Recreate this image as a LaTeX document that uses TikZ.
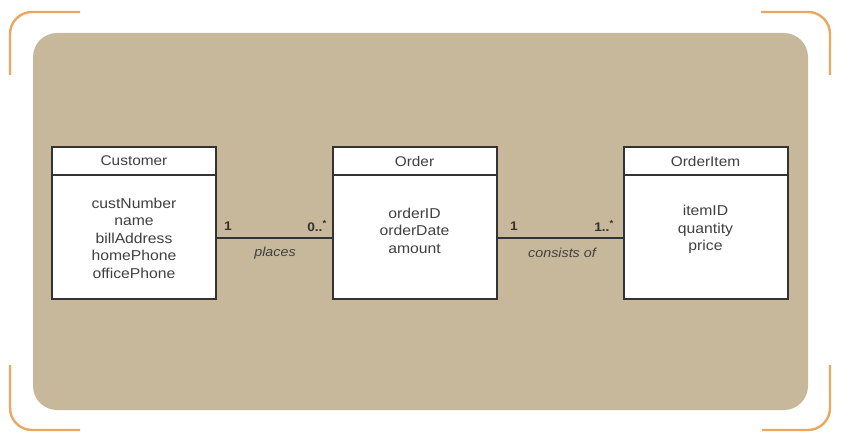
\documentclass[tikz,border=0pt]{standalone}
\usepackage{fontspec}
\setmainfont{Liberation Sans}[FakeStretch=1.1]
\definecolor{tanbg}{HTML}{C8B89B}
\definecolor{bracketc}{HTML}{E9A862}
\definecolor{linec}{HTML}{333333}
\definecolor{textc}{HTML}{404040}
\tikzset{
  bracket/.style={draw=bracketc, line width=2.4pt, rounded corners=22pt},
  classbox/.style={draw=linec, line width=2pt, fill=white, minimum width=164pt, minimum height=152pt, inner sep=0pt},
  classline/.style={draw=linec, line width=2pt},
  title/.style={text=textc, font=\fontsize{14}{16}\selectfont},
  attrs/.style={text=textc, align=center, font=\fontsize{14.3}{17.5}\selectfont},
  mult/.style={text=linec, font=\fontsize{12.5}{14}\selectfont\bfseries, inner sep=0pt},
  role/.style={text=textc, font=\fontsize{13}{15}\selectfont\itshape, inner sep=0pt},
  assoc/.style={draw=linec, line width=2pt}
}
\begin{document}
\begin{tikzpicture}[x=1pt, y=-1pt]
\useasboundingbox (0,0) rectangle (851,433);
% background panel
\fill[tanbg, rounded corners=24pt] (33,33) rectangle (808,410);
% corner brackets
\draw[bracket] (10,75) -- (10,12) -- (80,12);
\draw[bracket] (761,12) -- (830,12) -- (830,75);
\draw[bracket] (10,365) -- (10,430) -- (80,430);
\draw[bracket] (762,430) -- (830,430) -- (830,365);
% classes
\node[classbox] (cust) at (134,223) {};
\node[classbox] (order) at (414.5,223) {};
\node[classbox] (item) at (705.5,223) {};
\draw[classline] (cust.west |- 0,175) -- (cust.east |- 0,175);
\draw[classline] (order.west |- 0,175) -- (order.east |- 0,175);
\draw[classline] (item.west |- 0,175) -- (item.east |- 0,175);
\node[title] (custT) at (134,161) {Customer};
\node[title] (orderT) at (414.5,161) {Order};
\node[title] (itemT) at (705.5,161) {OrderItem};
\node[attrs] (custA) at (134,238) {custNumber\\name\\billAddress\\homePhone\\officePhone};
\node[attrs] (orderA) at (414.5,230.5) {orderID\\orderDate\\amount};
\node[attrs] (itemA) at (705.5,229.5) {itemID\\quantity\\price};
% associations
\draw[assoc] ([yshift=-15pt]cust.east) -- ([yshift=-15pt]order.west);
\draw[assoc] ([yshift=-15pt]order.east) -- ([yshift=-15pt]item.west);
\node[mult] (m1) at (228,226) {1};
\node[mult, anchor=east] (m2) at (327,226) {0..\textsuperscript{*}};
\node[role] (r1) at (275,253) {places};
\node[mult] (m3) at (514,226) {1};
\node[mult, anchor=east] (m4) at (614,226) {1..\textsuperscript{*}};
\node[role] (r2) at (562,253) {consists of};
\end{tikzpicture}
\end{document}
